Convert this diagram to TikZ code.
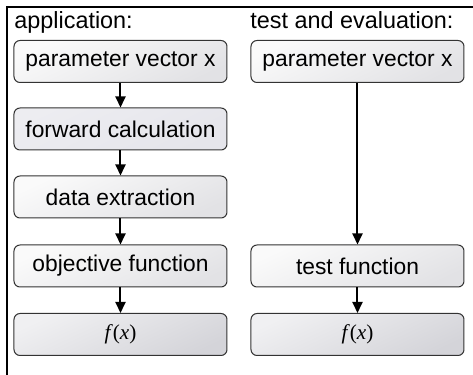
\documentclass[tikz,border=0pt]{standalone}
\usepackage{fontspec}
\setmainfont{Liberation Sans}
\newfontfamily\fxfont{Liberation Serif}
\usetikzlibrary{arrows.meta}
\definecolor{boxlight}{HTML}{FAFAFA}
\definecolor{boxshade}{HTML}{E2E2E5}
\definecolor{calcfill}{HTML}{E5E5EB}
\definecolor{fxlight}{HTML}{F0F0F2}
\definecolor{fxshade}{HTML}{D4D4D9}
\begin{document}
\begin{tikzpicture}[
    x=0.5pt, y=-0.5pt,
    every node/.style={font=\fontsize{11.4}{13}\selectfont},
    stepbox/.style={rectangle,rounded corners=3pt,draw=black!80,line width=0.5pt,
        minimum width=106.5pt,minimum height=21pt,
        top color=boxlight,bottom color=boxshade,shading angle=25},
    calcbox/.style={stepbox,top color=calcfill!70!white,bottom color=calcfill,shading angle=25},
    fxbox/.style={stepbox,top color=fxlight,bottom color=fxshade,shading angle=25,
        font=\fontsize{10.6}{13}\selectfont},
    title/.style={anchor=base west,inner sep=0pt,font=\fontsize{11.7}{13}\selectfont},
    flow/.style={line width=1pt,-{Triangle[length=5.5pt,width=5pt]}}
]
\useasboundingbox (0,0) rectangle (473,375);

% Rahmen
\draw[line width=1pt] (7,375) -- (7,7) -- (473,7);

% Überschriften
\node[title] (app) at (14,28) {application:};
\node[title] (test) at (250,28) {test and evaluation:};

% Spalte links
\node[stepbox] (p1) at (120.5,61.5) {parameter vector x};
\node[calcbox] (fwd) at (120.5,129) {forward calculation};
\node[stepbox] (ext) at (120.5,197) {data extraction};
\node[stepbox] (obj) at (120.5,266) {objective function};
\node[fxbox] (f1) at (120.5,334.5) {\fxfont\itshape f\/\upshape(\itshape x\/\upshape)};

% Spalte rechts
\node[stepbox] (p2) at (357.5,61.5) {parameter vector x};
\node[stepbox] (tst) at (357.5,266) {test function};
\node[fxbox] (f2) at (357.5,334.5) {\fxfont\itshape f\/\upshape(\itshape x\/\upshape)};

% Pfeile
\draw[flow] (p1) -- (fwd);
\draw[flow] (fwd) -- (ext);
\draw[flow] (ext) -- (obj);
\draw[flow] (obj) -- (f1);

\draw[flow] (p2) -- (tst);
\draw[flow] (tst) -- (f2);

\end{tikzpicture}
\end{document}
